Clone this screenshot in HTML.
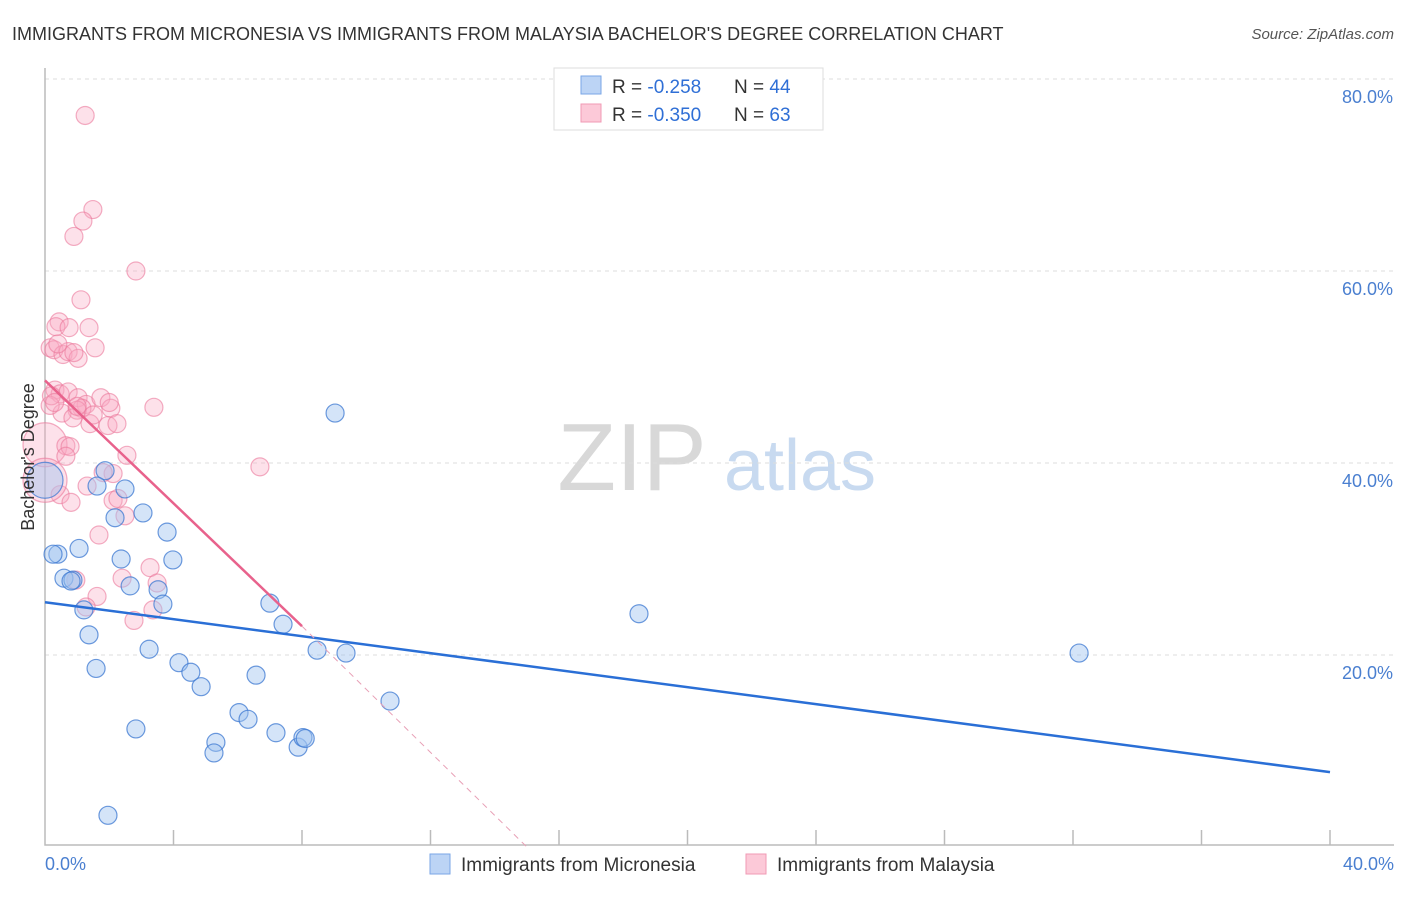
<!DOCTYPE html>
<html><head><meta charset="utf-8"><style>
body{margin:0;background:#fff;font-family:"Liberation Sans",sans-serif;}
svg text{font-family:"Liberation Sans",sans-serif;}
</style></head><body>
<svg id="c" width="1406" height="892">
<text x="12" y="40" font-size="18" fill="#333">IMMIGRANTS FROM MICRONESIA VS IMMIGRANTS FROM MALAYSIA BACHELOR'S DEGREE CORRELATION CHART</text>
<text x="1394" y="39" font-size="15" fill="#555" font-style="italic" text-anchor="end">Source: ZipAtlas.com</text>
<g><text x="632" y="490" font-size="96" fill="#d8d8d8" font-family="Liberation Serif" text-anchor="middle">ZIP</text><text x="800" y="490" font-size="72" fill="#c8daf0" text-anchor="middle">atlas</text></g>
<g id="grid"></g><g id="pts"></g><g id="lines"></g>
<text transform="translate(34,457) rotate(-90)" font-size="18" fill="#333" text-anchor="middle">Bachelor's Degree</text>
<text x="45" y="870" font-size="18" fill="#4a7fd0">0.0%</text>
<text x="1394" y="870" font-size="18" fill="#4a7fd0" text-anchor="end">40.0%</text>
<g>
<rect x="554" y="68" width="269" height="62" fill="#fff" stroke="#ddd"/>
<rect x="581" y="76" width="20" height="18" fill="#bcd4f5" stroke="#7aa6e6"/>
<rect x="581" y="104" width="20" height="18" fill="#fcc9d8" stroke="#f09ab4"/>
<text x="612" y="93" font-size="19" fill="#333">R = <tspan fill="#2f6fd6">-0.258</tspan><tspan x="734">N = </tspan><tspan fill="#2f6fd6">44</tspan></text>
<text x="612" y="121" font-size="19" fill="#333">R = <tspan fill="#2f6fd6">-0.350</tspan><tspan x="734">N = </tspan><tspan fill="#2f6fd6">63</tspan></text>
</g>
<g>
<rect x="430" y="854" width="20" height="20" fill="#bcd4f5" stroke="#7aa6e6"/>
<text x="461" y="871" font-size="19" fill="#333">Immigrants from Micronesia</text>
<rect x="746" y="854" width="20" height="20" fill="#fcc9d8" stroke="#f09ab4"/>
<text x="777" y="871" font-size="19" fill="#333">Immigrants from Malaysia</text>
</g>
</svg>
<script>
const yTicks=[20,40,60,80];
const yTickLabels=["20.0%","40.0%","60.0%","80.0%"];
const blueX=[9.03,18.49,32.19,1.87,2.49,1.62,2.18,3.05,3.80,0.40,0.25,1.06,2.37,3.98,0.59,0.87,0.81,2.65,3.52,3.67,1.21,7.00,7.41,1.37,3.24,1.59,4.17,4.54,4.86,6.57,8.47,9.37,10.74,6.04,6.32,2.83,7.19,5.32,5.26,7.88,8.03,8.1,1.96,0];
const blueY=[45.2,24.3,20.2,39.2,37.3,37.6,34.3,34.8,32.8,30.5,30.5,31.1,30.0,29.9,28.0,27.8,27.7,27.2,26.8,25.3,24.7,25.4,23.2,22.1,20.6,18.6,19.2,18.2,16.7,17.9,20.5,20.2,15.2,14.0,13.3,12.3,11.9,10.9,9.8,10.4,11.4,11.3,3.3,38.2];
const pinkX=[1.25,1.49,1.18,0.90,2.83,1.12,0.44,0.34,0.75,1.37,0.16,0.28,0.56,0.72,1.03,1.56,0.31,0.47,0.72,1.03,1.28,1.74,2.05,1.15,1.00,0.53,0.87,1.40,1.96,2.24,2.55,0.16,0,0.65,0.78,0.65,6.69,3.39,2.12,1.81,1.31,0.47,0.81,2.12,2.27,2.49,1.68,2.40,3.27,3.49,0.96,1.62,1.28,2.77,3.36,0.2,1.0,0.4,0.9,1.5,2.0,0.3,0];
const pinkY=[76.2,66.4,65.2,63.6,60.0,57.0,54.7,54.2,54.1,54.1,52.0,51.8,51.3,51.6,50.9,52.0,47.6,47.2,47.4,46.8,46.1,46.8,45.7,45.7,45.5,45.2,44.7,44.1,43.9,44.1,40.8,46.0,41.9,41.8,41.7,40.7,39.6,45.8,38.9,39.0,37.6,36.7,35.9,36.1,36.3,34.5,32.5,28.0,29.1,27.5,27.8,26.1,25.0,23.6,24.7,47.0,45.9,52.4,51.5,45.0,46.3,46.3,38.2];
const sizes={bigIdxBlue:43,bigIdxPink:[32,62]};
const blueLine=[25.5,7.8];   // y at x=0 and x=40
const pinkLine=[48.6,23.0,8.0,15.0]; // y at 0, y at solid end, solid end x, zero crossing x
const X=v=>45+v*32.125, Y=v=>847-v*9.6;
const NS="http://www.w3.org/2000/svg";
function mk(tag,attrs,parent){const e=document.createElementNS(NS,tag);for(const k in attrs)e.setAttribute(k,attrs[k]);parent.appendChild(e);return e;}
const grid=document.getElementById('grid'),pts=document.getElementById('pts'),lines=document.getElementById('lines');
yTicks.forEach((t,i)=>{
 const g=mk('line',{x1:45,x2:1394,y1:Y(t),y2:Y(t),stroke:'#ddd','stroke-dasharray':'4,4'},grid);
 
 
 const l=mk('text',{x:1393,y:Y(t)+24,'font-size':18,fill:'#4a7fd0','text-anchor':'end'},grid);
 l.textContent=yTickLabels[i];
 
 
});
const ax=mk('path',{d:'M45,68 V845 H1394',fill:'none',stroke:'#bbb','stroke-width':1.5},grid);


for(let i=1;i<=10;i++){const tk=mk('line',{x1:X(i*4),x2:X(i*4),y1:830,y2:845,stroke:'#bbb','stroke-width':1.5},grid);
 
 }
pinkX.forEach((x,i)=>{const big=sizes.bigIdxPink.includes(i);
 const c=mk('circle',{cx:X(x),cy:Y(pinkY[i]),r:big?22:9,fill:'rgba(248,170,195,0.35)',stroke:'rgba(235,120,155,0.6)','stroke-width':1.2},pts);
 
 });
blueX.forEach((x,i)=>{const big=i===sizes.bigIdxBlue;
 const c=mk('circle',{cx:X(x),cy:Y(blueY[i]),r:big?18:9,fill:'rgba(160,195,240,0.45)',stroke:'rgba(60,120,210,0.75)','stroke-width':1.2},pts);
 
 });
const bl=mk('line',{x1:X(0),y1:Y(blueLine[0]),x2:X(40),y2:Y(blueLine[1]),stroke:'#2a6fd6','stroke-width':2.5},lines);


const pl=mk('line',{x1:X(0),y1:Y(pinkLine[0]),x2:X(pinkLine[2]),y2:Y(pinkLine[1]),stroke:'#e8628c','stroke-width':2.5},lines);


const pd=mk('line',{x1:X(pinkLine[2]),y1:Y(pinkLine[1]),x2:X(pinkLine[3]),y2:Y(0),stroke:'#e8a0b6','stroke-width':1,'stroke-dasharray':'6,5'},lines);


</script>
</body></html>
